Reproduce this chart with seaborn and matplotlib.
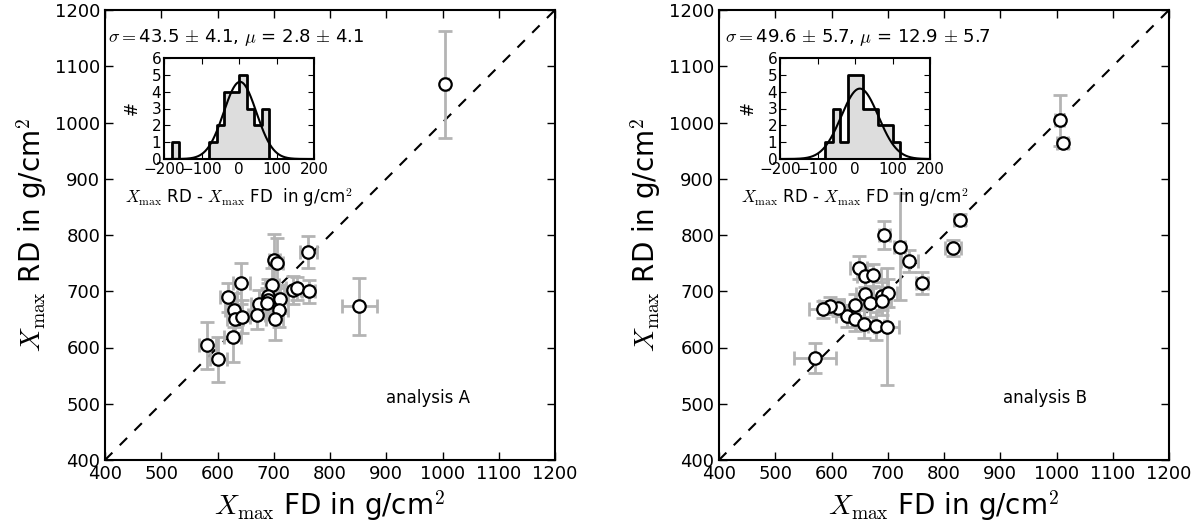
import numpy as np
import pandas as pd
import seaborn as sns
import matplotlib.pyplot as plt

# analysis A: Xmax from FD vs RD (g/cm^2) with uncertainties
fd_a = [701, 706, 761, 642, 619, 697, 689, 674, 690, 711, 734, 742, 762,
        710, 702, 670, 629, 631, 643, 627, 582, 601, 852, 1005, 688]
rd_a = [756, 750, 770, 714, 689, 711, 692, 678, 684, 686, 702, 705, 700,
        667, 651, 658, 667, 651, 655, 619, 604, 579, 673, 1068, 680]
fd_err_a = [10, 10, 15, 15, 15, 12, 15, 15, 15, 15, 15, 20, 12,
            15, 15, 15, 15, 15, 15, 15, 15, 15, 31, 5, 15]
rd_err_a = [45, 45, 28, 36, 25, 30, 30, 25, 30, 25, 25, 20, 20,
            30, 38, 25, 30, 25, 30, 45, 42, 40, 50, 95, 25]

# analysis B
fd_b = [648, 660, 673, 659, 669, 689, 701, 642, 628, 642, 658, 679, 816,
        698, 612, 597, 585, 571, 694, 721, 738, 761, 828, 1006, 1011, 690]
rd_b = [742, 727, 729, 696, 680, 692, 697, 676, 656, 650, 642, 638, 777,
        637, 671, 674, 668, 581, 800, 779, 754, 715, 827, 1004, 963, 682]
fd_err_b = [15, 15, 15, 15, 15, 15, 15, 20, 20, 15, 15, 15, 15,
            22, 20, 20, 25, 37, 10, 10, 15, 10, 10, 8, 10, 15]
rd_err_b = [20, 20, 20, 30, 25, 25, 25, 20, 20, 20, 25, 25, 15,
            104, 15, 15, 15, 27, 25, 95, 20, 20, 10, 45, 8, 25]

# gaussian fit results shown in the insets
fit_a = (43.5, 4.1, 2.8, 4.1)   # sigma, dsigma, mu, dmu
fit_b = (49.6, 5.7, 12.9, 5.7)
bin_edges = np.arange(-200, 201, 20)

sns.set_style("ticks", {"xtick.direction": "in", "ytick.direction": "in",
                        "axes.edgecolor": "black", "text.color": "black",
                        "axes.labelcolor": "black", "xtick.color": "black",
                        "ytick.color": "black"})
plt.rcParams["mathtext.fontset"] = "cm"
plt.rcParams["font.family"] = ["DejaVu Sans"]

fig = plt.figure(figsize=(11.96, 5.32), dpi=100)
main_pos = [[105 / 1196, 72 / 532, 450 / 1196, 450 / 532],
            [719 / 1196, 72 / 532, 450 / 1196, 450 / 532]]
inset_pos = [[164 / 1196, 373 / 532, 150 / 1196, 101 / 532],
             [780 / 1196, 373 / 532, 150 / 1196, 101 / 532]]
text_x = [236 / 1196, 858 / 1196]

panels = [(fd_a, rd_a, fd_err_a, rd_err_a, fit_a, "analysis A", 974),
          (fd_b, rd_b, fd_err_b, rd_err_b, fit_b, "analysis B", 980)]

for i, (fd, rd, fe, re_, fit, name, tx) in enumerate(panels):
    df = pd.DataFrame({"fd": fd, "rd": rd, "fe": fe, "re": re_})
    ax = fig.add_axes(main_pos[i])
    ax.axline((0, 0), slope=1, color="black", ls=(0, (5, 5)), lw=1.5, zorder=1)
    ax.errorbar(df["fd"], df["rd"], xerr=df["fe"], yerr=df["re"], fmt="none",
                ecolor="#b4b4b4", elinewidth=2, capsize=5, capthick=2, zorder=2)
    sns.scatterplot(data=df, x="fd", y="rd", ax=ax, s=80, color="white",
                    edgecolor="black", linewidth=1.6, zorder=3)
    ax.set_xlim(400, 1200)
    ax.set_ylim(400, 1200)
    ax.set_xticks(range(400, 1201, 100))
    ax.set_yticks(range(400, 1201, 100))
    ax.tick_params(labelsize=13, top=True, right=True, length=6, width=1)
    for s in ax.spines.values():
        s.set_linewidth(1.5)
    ax.set_xlabel(r"$X_\mathrm{max}$ FD in g/cm$^2$", fontsize=20)
    ax.set_ylabel(r"$X_\mathrm{max}$ RD in g/cm$^2$", fontsize=20)
    ax.text(tx, 510, name, fontsize=12, ha="center", va="center")

    # inset histogram of differences
    diff = df["rd"] - df["fd"]
    axi = fig.add_axes(inset_pos[i])
    sns.histplot(x=diff, bins=bin_edges, element="step", fill=True, ax=axi,
                 color="#dddddd", edgecolor="black", linewidth=2, alpha=1)
    sig, dsig, mu, dmu = fit
    xs = np.linspace(-200, 200, 400)
    gauss = len(diff) * 20 / (sig * np.sqrt(2 * np.pi)) * np.exp(-0.5 * ((xs - mu) / sig) ** 2)
    axi.plot(xs, gauss, color="black", lw=1.5)
    axi.set_xlim(-200, 200)
    axi.set_ylim(0, 6)
    axi.set_xticks([-200, -100, 0, 100, 200])
    axi.set_yticks(range(0, 7))
    axi.tick_params(labelsize=11, top=True, right=True, length=4, pad=2)
    for s in axi.spines.values():
        s.set_linewidth(1.5)
    axi.set_ylabel("#", fontsize=12, labelpad=8)
    axi.set_xlabel(r"$X_\mathrm{max}$ RD - $X_\mathrm{max}$ FD  in g/cm$^2$", fontsize=12, labelpad=7)
    fig.text(text_x[i], 1 - 37 / 532,
             r"$\sigma=$" + f"{sig} " + r"$\pm$" + f" {dsig}, " + r"$\mu$" + f" = {mu} " + r"$\pm$" + f" {dmu}",
             fontsize=13, ha="center", va="center")

fig.savefig("out.png", dpi=100)
